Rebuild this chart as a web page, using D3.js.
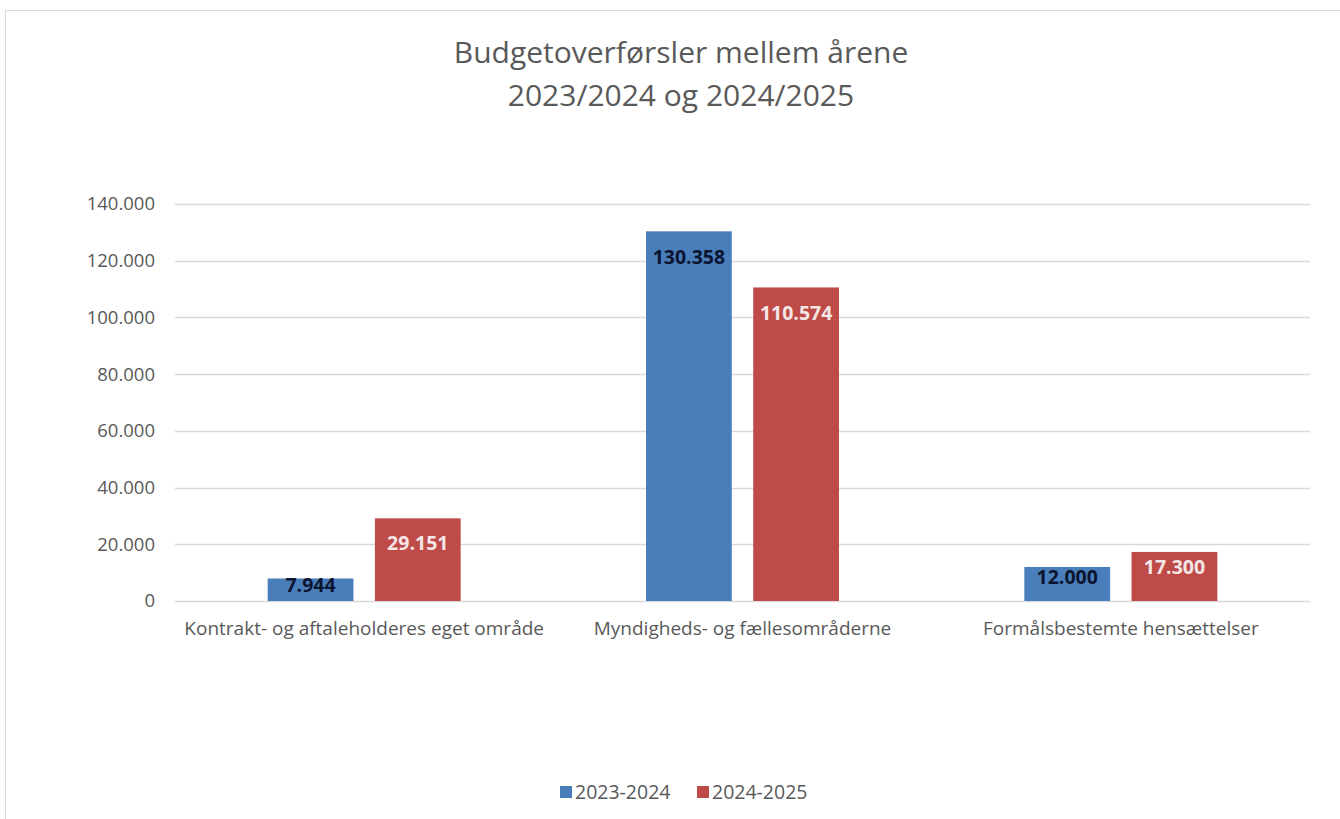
<!DOCTYPE html>
<html>
<head>
<meta charset="utf-8">
<script src="https://cdn.jsdelivr.net/npm/d3@7"></script>
<style>
  body { margin: 0; background: #fff; }
  text { font-family: "Open Sans", sans-serif; }
</style>
</head>
<body>
<svg id="chart" width="1340" height="819"></svg>
<script>
const categories = [
  "Kontrakt- og aftaleholderes eget område",
  "Myndigheds- og fællesområderne",
  "Formålsbestemte hensættelser"
];
const seriesNames = ["2023-2024", "2024-2025"];
const values2324 = [7944, 130358, 12000];
const values2425 = [29151, 110574, 17300];
const yTicks = [0, 20000, 40000, 60000, 80000, 100000, 120000, 140000];

const colors = ["#4a7ebb", "#be4b48"];
const labelColors = ["#0b1530", "#f4e6e6"];

const svg = d3.select("#chart");
const W = 1340, H = 819;
const margin = { top: 204, right: 30, bottom: 218, left: 175 };
const groupW = 193;

// outer frame
svg.append("rect")
  .attr("x", 5.5).attr("y", 10.5)
  .attr("width", W).attr("height", H)
  .attr("fill", "none").attr("stroke", "#d9d9d9");

const fmt = v => d3.format(",")(v).replace(/,/g, ".");

const x0 = d3.scaleBand()
  .domain(categories)
  .range([margin.left, W - margin.right]);
const x1 = d3.scaleBand()
  .domain(seriesNames)
  .range([0, groupW])
  .paddingInner(0.2);
const y = d3.scaleLinear()
  .domain([0, 140000])
  .range([H - margin.bottom, margin.top]);

// gridlines
svg.append("g")
  .selectAll("line")
  .data(yTicks)
  .join("line")
  .attr("x1", margin.left).attr("x2", W - margin.right)
  .attr("y1", d => Math.round(y(d)) + 0.5).attr("y2", d => Math.round(y(d)) + 0.5)
  .attr("stroke", "#d9d9d9").attr("stroke-width", 1.3);

// y axis labels
const yAxis = d3.axisLeft(y).tickValues(yTicks).tickFormat(fmt).tickSize(0).tickPadding(0);
const gy = svg.append("g").attr("transform", `translate(${margin.left - 20},0)`).call(yAxis);
gy.select(".domain").remove();
gy.selectAll("text").attr("font-size", 18.5).attr("fill", "#595959")
  .style("font-family", "'Open Sans', sans-serif");

// x axis labels
const xAxis = d3.axisBottom(x0).tickSize(0).tickPadding(0);
const gx = svg.append("g").attr("transform", `translate(0,${H - margin.bottom + 20})`).call(xAxis);
gx.select(".domain").remove();
gx.selectAll("text").attr("font-size", 19).attr("fill", "#595959")
  .style("font-family", "'Open Sans', sans-serif");

// bars
const rows = categories.map((c, i) => ({
  cat: c,
  vals: [values2324[i], values2425[i]].map((v, j) => ({ key: seriesNames[j], v, j }))
}));

const groups = svg.append("g")
  .selectAll("g")
  .data(rows)
  .join("g")
  .attr("transform", d => `translate(${x0(d.cat) + (x0.bandwidth() - groupW) / 2},0)`);

groups.selectAll("rect")
  .data(d => d.vals)
  .join("rect")
  .attr("x", d => x1(d.key))
  .attr("y", d => y(d.v))
  .attr("width", x1.bandwidth())
  .attr("height", d => y(0) - y(d.v))
  .attr("fill", d => colors[d.j]);

groups.selectAll("text")
  .data(d => d.vals)
  .join("text")
  .attr("x", d => x1(d.key) + x1.bandwidth() / 2)
  .attr("y", d => {
    const h = y(0) - y(d.v);
    return y(d.v) + Math.min(26, Math.max(4, h * 0.3)) + 7;
  })
  .attr("text-anchor", "middle")
  .attr("font-size", 19.5)
  .attr("font-weight", "bold")
  .attr("fill", d => labelColors[d.j])
  .text(d => fmt(d.v));

// title
const title = svg.append("text")
  .attr("text-anchor", "middle")
  .attr("font-size", 30)
  .attr("fill", "#595959");
title.append("tspan").attr("x", 681).attr("y", 63).text("Budgetoverførsler mellem årene");
title.append("tspan").attr("x", 681).attr("y", 106).text("2023/2024 og 2024/2025");

// legend
const legend = svg.append("g").attr("transform", "translate(560,792)");
const li = legend.selectAll("g")
  .data(seriesNames)
  .join("g")
  .attr("transform", (d, i) => `translate(${i * 137},0)`);
li.append("rect").attr("x", 0).attr("y", -6).attr("width", 12).attr("height", 12)
  .attr("fill", (d, i) => colors[i]);
li.append("text").attr("x", 15).attr("y", 7).attr("font-size", 19.5).attr("fill", "#595959")
  .text(d => d);
</script>
</body>
</html>
